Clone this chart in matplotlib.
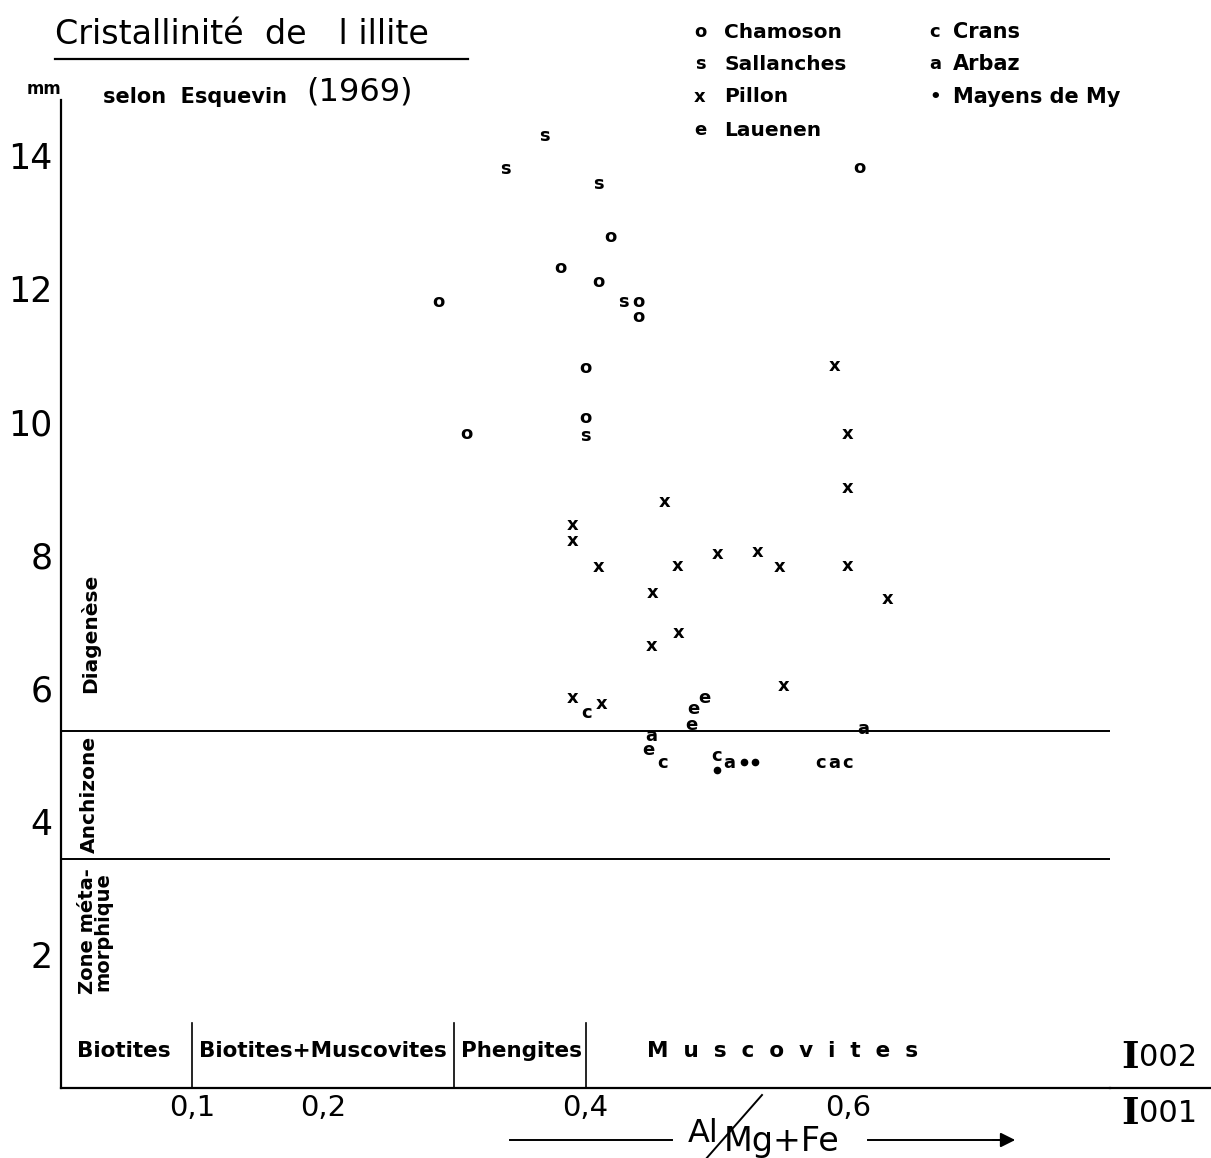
import matplotlib
matplotlib.use("Agg")
import matplotlib.pyplot as plt
from matplotlib.lines import Line2D

# Points: x = Al/(Mg+Fe), y = crystallinity (mm)
cham_x = [0.288, 0.309, 0.381, 0.410, 0.419, 0.440, 0.440, 0.400, 0.400, 0.609]
cham_y = [11.80, 9.82, 12.31, 12.10, 12.78, 11.80, 11.58, 10.81, 10.06, 13.81]

sall_x = [0.339, 0.369, 0.410, 0.429, 0.400]
sall_y = [13.80, 14.29, 13.57, 11.80, 9.79]

pillon_x = [0.590, 0.600, 0.600, 0.460, 0.390, 0.390, 0.410, 0.470, 0.501, 0.531,
            0.548, 0.600, 0.451, 0.630, 0.450, 0.471, 0.551, 0.390, 0.412]
pillon_y = [10.83, 9.82, 9.01, 8.80, 8.45, 8.21, 7.82, 7.84, 8.02, 8.05,
            7.82, 7.84, 7.43, 7.34, 6.64, 6.83, 6.04, 5.86, 5.77]

lauenen_x = [0.491, 0.482, 0.481, 0.448]
lauenen_y = [5.86, 5.69, 5.45, 5.08]

crans_x = [0.401, 0.459, 0.500, 0.579, 0.600]
crans_y = [5.63, 4.88, 4.98, 4.88, 4.88]

arbaz_x = [0.450, 0.510, 0.590, 0.612]
arbaz_y = [5.29, 4.88, 4.88, 5.39]

mayens_x = [0.500, 0.521, 0.529]
mayens_y = [4.77, 4.90, 4.90]

# zone limits (mm) and mineral limits (Al/Mg+Fe)
zone_limits = [5.36, 3.44]
mineral_limits = [0.1, 0.3, 0.4]
x_ticks = [0.1, 0.2, 0.4, 0.6]
x_labels = ["0,1", "0,2", "0,4", "0,6"]
y_ticks = [2, 4, 6, 8, 10, 12, 14]

W, H = 1211, 1158
fig = plt.figure(figsize=(W / 100, H / 100), dpi=100)
ax = fig.add_axes([61 / W, 70 / H, (1110 - 61) / W, (1088 - 100) / H])
ax.set_xlim(0, 0.8)
ax.set_ylim(0, 14.83)

thin = dict(family="DejaVu Sans", weight="normal")
bold = dict(family="DejaVu Sans", weight="bold")

for s in ["top", "right"]:
    ax.spines[s].set_visible(False)
for s in ["left", "bottom"]:
    ax.spines[s].set_linewidth(1.6)

ax.set_xticks(x_ticks)
ax.set_xticklabels(x_labels, fontsize=21, **thin)
ax.set_yticks(y_ticks)
ax.set_yticklabels([str(v) for v in y_ticks], fontsize=25, **thin)
ax.tick_params(length=0)
ax.tick_params(axis="y", pad=6)
ax.tick_params(axis="x", pad=4)

for v in zone_limits:
    ax.axhline(v, color="black", lw=1.4)
for v in mineral_limits:
    ax.plot([v, v], [0, 0.98], color="black", lw=1.2)

# data as letters
def letters(xs, ys, ch):
    for x, y in zip(xs, ys):
        ax.text(x, y, ch, ha="center", va="center", fontsize=13, **bold)

letters(cham_x, cham_y, "o")
letters(sall_x, sall_y, "s")
letters(pillon_x, pillon_y, "x")
letters(lauenen_x, lauenen_y, "e")
letters(crans_x, crans_y, "c")
letters(arbaz_x, arbaz_y, "a")
ax.plot(mayens_x, mayens_y, "o", color="black", ms=4.5, ls="none")

# zone names
ax.text(0.022, 6.83, "Diagenèse", rotation=90, ha="center", va="center", fontsize=14.5, **bold)
ax.text(0.022, 4.4, "Anchizone", rotation=90, ha="center", va="center", fontsize=14.5, **bold)
ax.text(0.026, 2.35, "Zone méta-\nmorphique", rotation=90, ha="center", va="center",
        fontsize=14, linespacing=0.78, **bold)

# mineral names
mineral_names = ["Biotites", "Biotites+Muscovites", "Phengites", "M  u  s  c  o  v  i  t  e  s"]
mineral_pos = [0.048, 0.2, 0.351, 0.55]
for name, xp in zip(mineral_names, mineral_pos):
    ax.text(xp, 0.55, name, ha="center", va="center", fontsize=15.5, **bold)


def ftext(x, y, s, **kw):
    return fig.text(x / W, 1 - y / H, s, **kw)


# title block
ftext(55, 35, "Cristallinité  de   l illite", fontsize=24, ha="left", va="center", **thin)
fig.add_artist(Line2D([55 / W, 468 / W], [1 - 59 / H, 1 - 59 / H], color="black", lw=1.6))
ftext(44, 89, "mm", fontsize=12, ha="center", va="center", **bold)
ftext(103, 97, "selon  Esquevin", fontsize=15, ha="left", va="center", **bold)
ftext(306, 92, "(1969)", fontsize=23, ha="left", va="center", **thin)

# legend
leg_left = [("o", "Chamoson"), ("s", "Sallanches"), ("x", "Pillon"), ("e", "Lauenen")]
leg_right = [("c", "Crans"), ("a", "Arbaz"), ("•", "Mayens de My")]
rows = [32, 64, 97, 130]
for (m, name), yy in zip(leg_left, rows):
    ftext(700, yy, m, fontsize=13, ha="center", va="center", **bold)
    ftext(724, yy, name, fontsize=14.5, ha="left", va="center", **bold)
for (m, name), yy in zip(leg_right, rows):
    ftext(935, yy, m, fontsize=13, ha="center", va="center", **bold)
    ftext(953, yy, name, fontsize=15, ha="left", va="center", **bold)

# I002 / I001 fraction on the right
fig.add_artist(Line2D([1110 / W, 1211 / W], [1 - 1088 / H, 1 - 1088 / H], color="black", lw=1.6))
ftext(1121, 1057, "I", fontsize=27, ha="left", va="center", family="DejaVu Serif", weight="bold")
ftext(1139, 1057, "002", fontsize=22, ha="left", va="center", **thin)
ftext(1121, 1114, "I", fontsize=27, ha="left", va="center", family="DejaVu Serif", weight="bold")
ftext(1139, 1114, "001", fontsize=22, ha="left", va="center", **thin)

# x-axis title with arrow
fig.add_artist(Line2D([510 / W, 672 / W], [1 - 1140 / H, 1 - 1140 / H], color="black", lw=1.4))
ftext(688, 1134, "Al", fontsize=23, ha="left", va="center", **thin)
fig.add_artist(Line2D([705 / W, 762 / W], [1 - 1160 / H, 1 - 1095 / H], color="black", lw=1.4))
ftext(724, 1141, "Mg+Fe", fontsize=24, ha="left", va="center", **thin)
fig.add_artist(Line2D([868 / W, 1000 / W], [1 - 1140 / H, 1 - 1140 / H], color="black", lw=1.4))
ax.annotate("", xy=(1018 / W, 1 - 1140 / H), xytext=(990 / W, 1 - 1140 / H),
            xycoords="figure fraction", textcoords="figure fraction",
            arrowprops=dict(arrowstyle="-|>", color="black", lw=1.4, mutation_scale=22),
            annotation_clip=False)

fig.savefig("out.png", dpi=100)
